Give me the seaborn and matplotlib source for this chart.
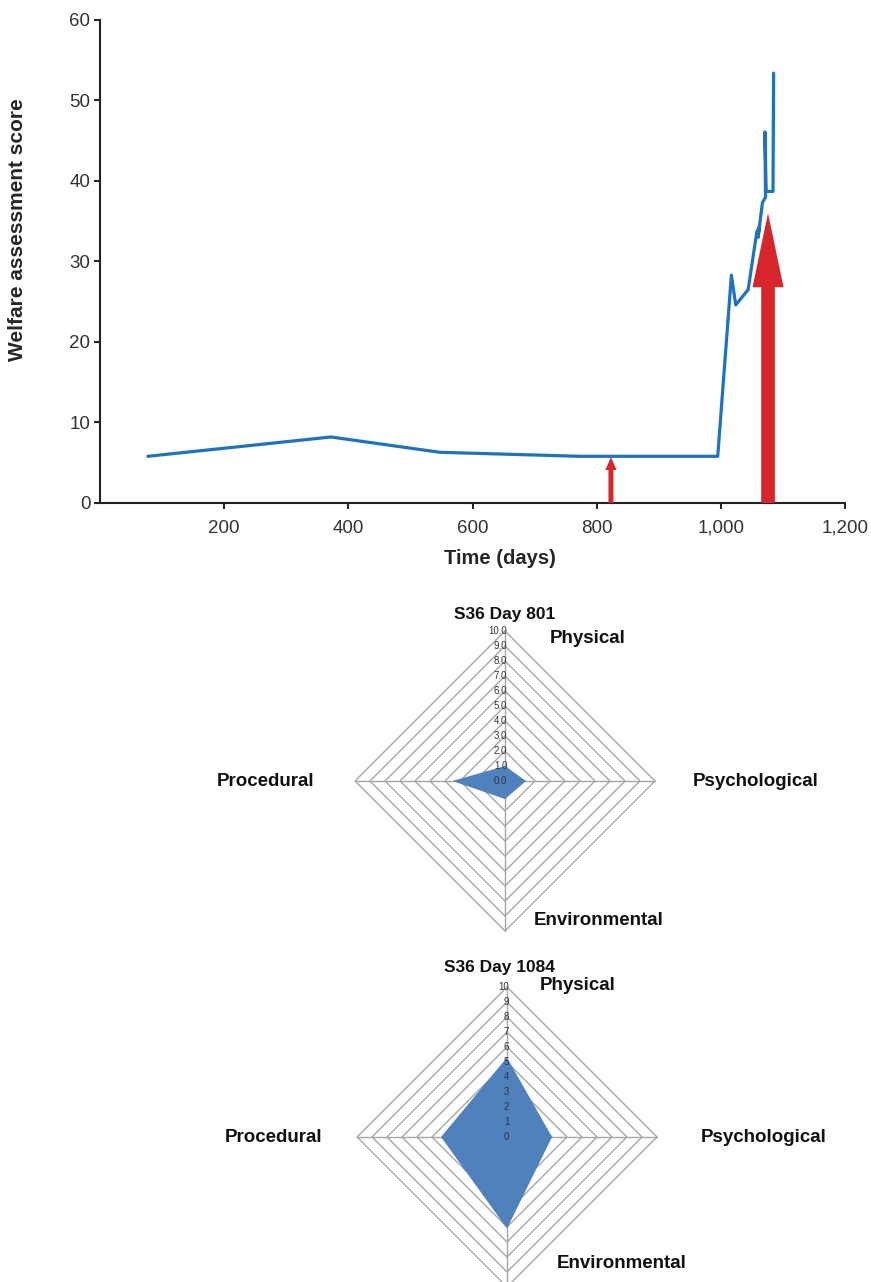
import numpy as np
import pandas as pd
import seaborn as sns
import matplotlib.pyplot as plt

sns.set_style("ticks")
plt.rcParams["font.family"] = ["Liberation Sans", "DejaVu Sans"]

# welfare score over time
days = [77, 372, 547, 773, 995, 1017, 1024, 1044, 1058, 1062, 1060, 1067, 1072, 1071, 1073, 1078, 1084, 1085]
score = [5.8, 8.2, 6.3, 5.8, 5.8, 28.3, 24.6, 26.5, 33.7, 34.3, 33.0, 37.3, 38.0, 46.1, 38.7, 38.7, 38.7, 53.4]

# red arrows (day, tip value)
arrow_days = [823, 1076]
arrow_tips = [5.7, 36.0]

# radar data
domains = ["Physical", "Psychological", "Environmental", "Procedural"]
day801 = [1.0, 1.4, 1.2, 3.5]
day1084 = [5.3, 3.0, 6.1, 4.4]
ring_levels = list(range(0, 11))

blue = "#1f72bf"
red = "#d7262b"
fill_blue = "#4f81bd"

fig = plt.figure(figsize=(8.71, 12.82), dpi=100)

# ------------------------------
# 1. Line chart
# ------------------------------
ax = fig.add_axes([100 / 871, 1 - 503 / 1282, 745 / 871, 483 / 1282])
df = pd.DataFrame({"day": days, "score": score})
sns.lineplot(data=df, x="day", y="score", sort=False, color=blue, lw=2.3, ax=ax)

for d, tip, w, hw, hl in zip(arrow_days, arrow_tips, [8, 22], [18, 50], [1.6, 9.2]):
    ax.arrow(d, 0, 0, tip, width=w, head_width=hw, head_length=hl,
             length_includes_head=True, color=red, lw=0, zorder=3)

ax.set_xlim(0, 1200)
ax.set_ylim(0, 60)
ax.set_xticks([200, 400, 600, 800, 1000, 1200])
ax.set_xticklabels(["200", "400", "600", "800", "1,000", "1,200"])
ax.set_yticks(range(0, 61, 10))
ax.tick_params(direction="out", length=4, width=1.5, labelsize=13.5, labelcolor="#333", pad=3)
ax.tick_params(axis="x", pad=8)
for s in ["left", "bottom"]:
    ax.spines[s].set_linewidth(1.5)
    ax.spines[s].set_color("#222")
sns.despine(ax=ax)
ax.set_xlabel("Time (days)", fontsize=14.5, fontweight="bold")
ax.set_ylabel("Welfare assessment score", fontsize=15, fontweight="bold")
ax.xaxis.set_label_coords(0.537, -0.095)
ax.yaxis.set_label_coords(-0.098, 0.565)


# ------------------------------
# 2. Radar charts (diamond grid)
# ------------------------------
def radar(cx, cy, vals, title, fmt, lab_pos, title_pos):
    s = 15.0
    rax = fig.add_axes([(cx - 11 * s) / 871, 1 - (cy + 11 * s) / 1282, 22 * s / 871, 22 * s / 1282])
    rax.set_xlim(-11, 11)
    rax.set_ylim(-11, 11)
    rax.axis("off")
    ang = np.array([90, 0, -90, 180]) * np.pi / 180
    for r in ring_levels[1:]:
        xs = np.append(r * np.cos(ang), r * np.cos(ang[0]))
        ys = np.append(r * np.sin(ang), r * np.sin(ang[0]))
        rax.plot(xs, ys, color="#a6a6a6", lw=1, zorder=1)
    rax.plot([-10, 10], [0, 0], color="#a6a6a6", lw=1, zorder=1)
    rax.plot([0, 0], [-10, 10], color="#a6a6a6", lw=1, zorder=1)
    v = np.array(vals)
    rax.fill(v * np.cos(ang), v * np.sin(ang), color=fill_blue, lw=0, zorder=2)
    for r in ring_levels:
        rax.text(0.15, r, fmt.format(r), fontsize=7, color="#333", ha="right", va="center", zorder=3)
    for name, (x, y, ha) in zip(domains, lab_pos):
        rax.text(x, y, name, fontsize=13.5, fontweight="bold", color="#111", ha=ha, va="center",
                 clip_on=False)
    rax.text(title_pos[0], title_pos[1], title, fontsize=12.5, fontweight="bold", color="#111",
             ha="center", va="center", clip_on=False)


radar(505, 781, day801, "S36 Day 801", "{:.1f}",
      [(3.0, 9.5, "left"), (12.5, 0, "left"), (1.9, -9.3, "left"), (-12.7, 0, "right")],
      (0.0, 11.1))
radar(507, 1137, day1084, "S36 Day 1084", "{:d}",
      [(2.2, 10.1, "left"), (12.9, 0, "left"), (3.3, -8.4, "left"), (-12.3, 0, "right")],
      (-0.5, 11.3))

fig.savefig("out.png", dpi=100)
